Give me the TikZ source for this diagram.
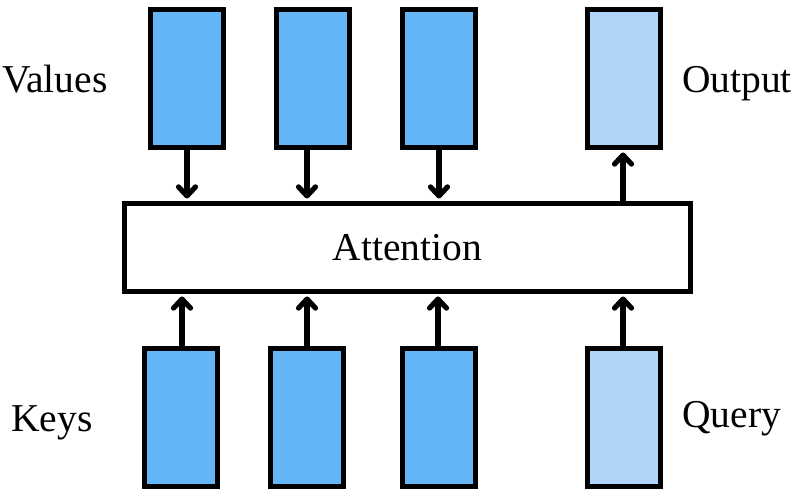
\documentclass[tikz,border=0pt]{standalone}
\usepackage{fontspec}
\setmainfont{Liberation Serif}
\usetikzlibrary{arrows.meta}
\definecolor{vblue}{HTML}{64B5F6}
\definecolor{lblue}{HTML}{AED4F8}
\begin{document}
\begin{tikzpicture}[x=1pt,y=1pt,
  vec/.style={draw=black,line width=5pt,inner sep=0pt,minimum width=73pt,minimum height=138pt},
  attbox/.style={draw=black,line width=5pt,fill=white,inner sep=0pt,minimum width=566pt,minimum height=88pt,font=\fontsize{39.5}{41}\selectfont},
  lbl/.style={inner sep=0pt,anchor=base west,font=\fontsize{39.5}{41}\selectfont},
  conn/.style={line width=5.2pt,-{Straight Barb[length=9pt,width=17pt,line cap=round,line join=round]}}]
\useasboundingbox (0,0) rectangle (800,495);
% value boxes
\node[vec,fill=vblue] (v1) at (187,416.5) {};
\node[vec,fill=vblue] (v2) at (313,416.5) {};
\node[vec,fill=vblue] (v3) at (439,416.5) {};
\node[vec,fill=lblue] (out) at (624,416.5) {};
% key boxes
\node[vec,fill=vblue] (k1) at (180.5,77) {};
\node[vec,fill=vblue] (k2) at (307,77) {};
\node[vec,fill=vblue] (k3) at (439,77) {};
\node[vec,fill=lblue] (q) at (624,77) {};
% attention
\node[attbox] (att) at (407.5,247.5) {\raisebox{-1pt}{Attention}};
% labels
\node[lbl] (lv) at (2,402.3) {Values};
\node[lbl] (lk) at (11,63) {Keys};
\node[lbl] (lo) at (682,402.3) {Output};
\node[lbl] (lq) at (682,67) {Query};
% arrows
\draw[conn] (v1.south) -- ([yshift=2.5pt]v1.south |- att.north);
\draw[conn] ([xshift=-6pt]v2.south) -- ([xshift=-6pt,yshift=2.5pt]v2.south |- att.north);
\draw[conn] (v3.south) -- ([yshift=2.5pt]v3.south |- att.north);
\draw[conn] ([xshift=-1pt]att.north -| out.south) -- ([xshift=-1pt,yshift=-2.5pt]out.south);
\draw[conn] ([xshift=1.5pt]k1.north) -- ([xshift=1.5pt,yshift=-2.5pt]k1.north |- att.south);
\draw[conn] (k2.north) -- ([yshift=-2.5pt]k2.north |- att.south);
\draw[conn] ([xshift=-1pt]k3.north) -- ([xshift=-1pt,yshift=-2.5pt]k3.north |- att.south);
\draw[conn] ([xshift=-1pt]q.north) -- ([xshift=-1pt,yshift=-2.5pt]q.north |- att.south);
\end{tikzpicture}
\end{document}
